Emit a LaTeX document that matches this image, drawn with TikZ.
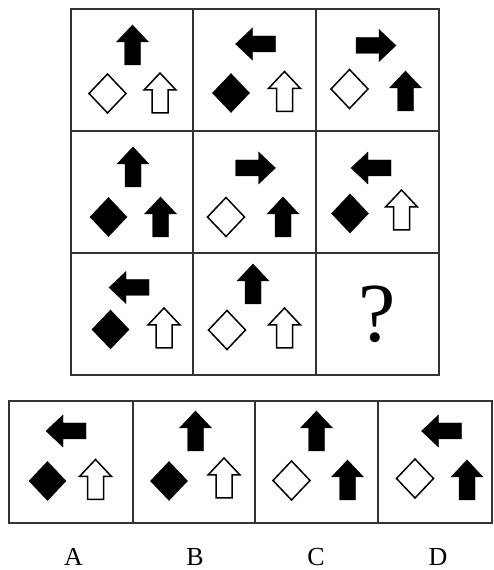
\documentclass[tikz,border=0pt]{standalone}
\usepackage{fontspec}
\setmainfont{Liberation Serif}

\tikzset{
  arr/.pic={\path[pic actions] (-8,-20) -- (-8,3) -- (-16,3) -- (0,20) -- (16,3) -- (8,3) -- (8,-20) -- cycle;},
  dia/.pic={\path[pic actions] (0,19.5) -- (18.5,0) -- (0,-19.5) -- (-18.5,0) -- cycle;},
  full/.style={draw=black, fill=black, line width=0.4pt, line join=miter},
  hollow/.style={draw=black, fill=white, line width=1.5pt, line join=miter},
  frame/.style={draw=black!80, line width=1.8pt}
}

\begin{document}
\begin{tikzpicture}[x=1pt, y=1pt]
  \useasboundingbox (0,0) rectangle (493,570);

  \draw[frame] (71,195) rectangle (439,561);
  \draw[frame] (193,195) -- (193,561) (316,195) -- (316,561);
  \draw[frame] (71,439) -- (439,439) (71,317) -- (439,317);

  \draw[frame] (9,47) rectangle (492,169);
  \draw[frame] (133,47) -- (133,169) (255,47) -- (255,169) (378,47) -- (378,169);

  % row 1
  \pic[full] at (132.5,525) {arr};
  \pic[hollow] at (107.5,476.5) {dia};
  \pic[hollow] at (160,477) {arr};

  \pic[full, rotate=90] at (255.5,526) {arr};
  \pic[full] at (231,477) {dia};
  \pic[hollow] at (284.5,478.5) {arr};

  \pic[full, rotate=-90] at (376,524.5) {arr};
  \pic[hollow] at (349.5,481) {dia};
  \pic[full] at (405.5,479) {arr};

  % row 2
  \pic[full] at (133,403) {arr};
  \pic[full] at (108.5,353) {dia};
  \pic[full] at (160.5,353) {arr};

  \pic[full, rotate=-90] at (255.5,402) {arr};
  \pic[hollow] at (226,353) {dia};
  \pic[full] at (283,353) {arr};

  \pic[full, rotate=90] at (371,402) {arr};
  \pic[full] at (350,356.5) {dia};
  \pic[hollow] at (401.5,360) {arr};

  % row 3
  \pic[full, rotate=90] at (129,282.5) {arr};
  \pic[full] at (110.5,240.5) {dia};
  \pic[hollow] at (164,242) {arr};

  \pic[full] at (253,286) {arr};
  \pic[hollow] at (227,240) {dia};
  \pic[hollow] at (284.5,242) {arr};

  \node[anchor=base, inner sep=0pt, font=\fontsize{84}{84}\selectfont] (qm) at (377.5,228) {?};

  % options
  \pic[full, rotate=90] at (66,139) {arr};
  \pic[full] at (47.5,89) {dia};
  \pic[hollow] at (95.5,90.5) {arr};

  \pic[full] at (195.5,139) {arr};
  \pic[full] at (169,89) {dia};
  \pic[hollow] at (224,92) {arr};

  \pic[full] at (316.5,139) {arr};
  \pic[hollow] at (291.5,89.5) {dia};
  \pic[full] at (347.5,90) {arr};

  \pic[full, rotate=90] at (441.5,139) {arr};
  \pic[hollow] at (415,91.5) {dia};
  \pic[full] at (467,90) {arr};

  \foreach \lbl/\xx in {A/73.5, B/195, C/316, D/438}
    \node[anchor=base, inner sep=0pt, font=\fontsize{26}{26}\selectfont] (lbl\lbl) at (\xx,5) {\lbl};
\end{tikzpicture}
\end{document}
